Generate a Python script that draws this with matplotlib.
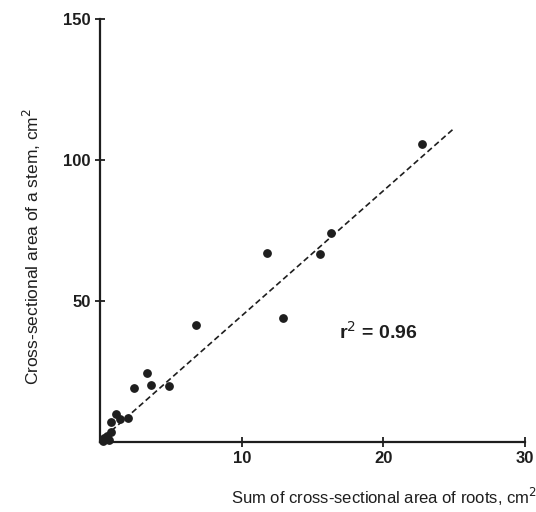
import matplotlib.pyplot as plt

# data
root_area = [22.7, 16.3, 15.5, 11.8, 12.9, 6.8, 3.3, 2.4, 3.6, 4.9,
             1.1, 0.8, 1.4, 2.0, 0.8, 0.3, 0.5, 0.6, 0.2]
stem_area = [105.6, 74.2, 66.7, 67.1, 43.8, 41.5, 24.5, 19.1, 20.3, 19.9,
             9.8, 7.2, 8.0, 8.6, 3.6, 1.2, 2.0, 0.6, 0.4]

fit_x = [0.8, 24.9]
fit_y = [3.9, 110.8]

x_ticks = [10, 20, 30]
y_ticks = [50, 100, 150]

ink = "#1e1e1e"
plt.rcParams['font.family'] = ['Liberation Sans', 'DejaVu Sans']

fig = plt.figure(figsize=(5.36, 5.12), dpi=100)
ax = fig.add_axes([0.1866, 0.137, 0.793, 0.826])

ax.plot(fit_x, fit_y, linestyle=(0, (3.5, 2)), color=ink, linewidth=1.2)
ax.scatter(root_area, stem_area, s=28, color=ink, zorder=3, clip_on=False)

ax.set_xlim(0, 30)
ax.set_ylim(0, 150)
ax.set_xticks(x_ticks)
ax.set_yticks(y_ticks)

for side in ["top", "right"]:
    ax.spines[side].set_visible(False)
for side in ["left", "bottom"]:
    ax.spines[side].set_linewidth(1.6)
    ax.spines[side].set_color(ink)

ax.tick_params(direction="inout", length=7, width=1.3, color=ink,
               labelsize=12, labelcolor=ink, pad=3)
for lab in ax.get_xticklabels() + ax.get_yticklabels():
    lab.set_fontweight("bold")

# axis titles placed like in the scan (x title sits right of centre)
fig.text(384 / 536, 4 / 512, "Sum of cross-sectional area of roots, cm$^2$",
         fontsize=12, color=ink, ha="center", va="bottom")
fig.text(32 / 536, 1 - 246 / 512, "Cross-sectional area of a stem, cm$^2$",
         fontsize=12.5, color=ink, ha="center", va="center", rotation=90)

ax.text(0.655, 0.26, "r$^2$ = 0.96", transform=ax.transAxes, fontsize=14,
        fontweight="bold", color=ink, ha="center", va="center")

fig.savefig("out.png", dpi=100)
